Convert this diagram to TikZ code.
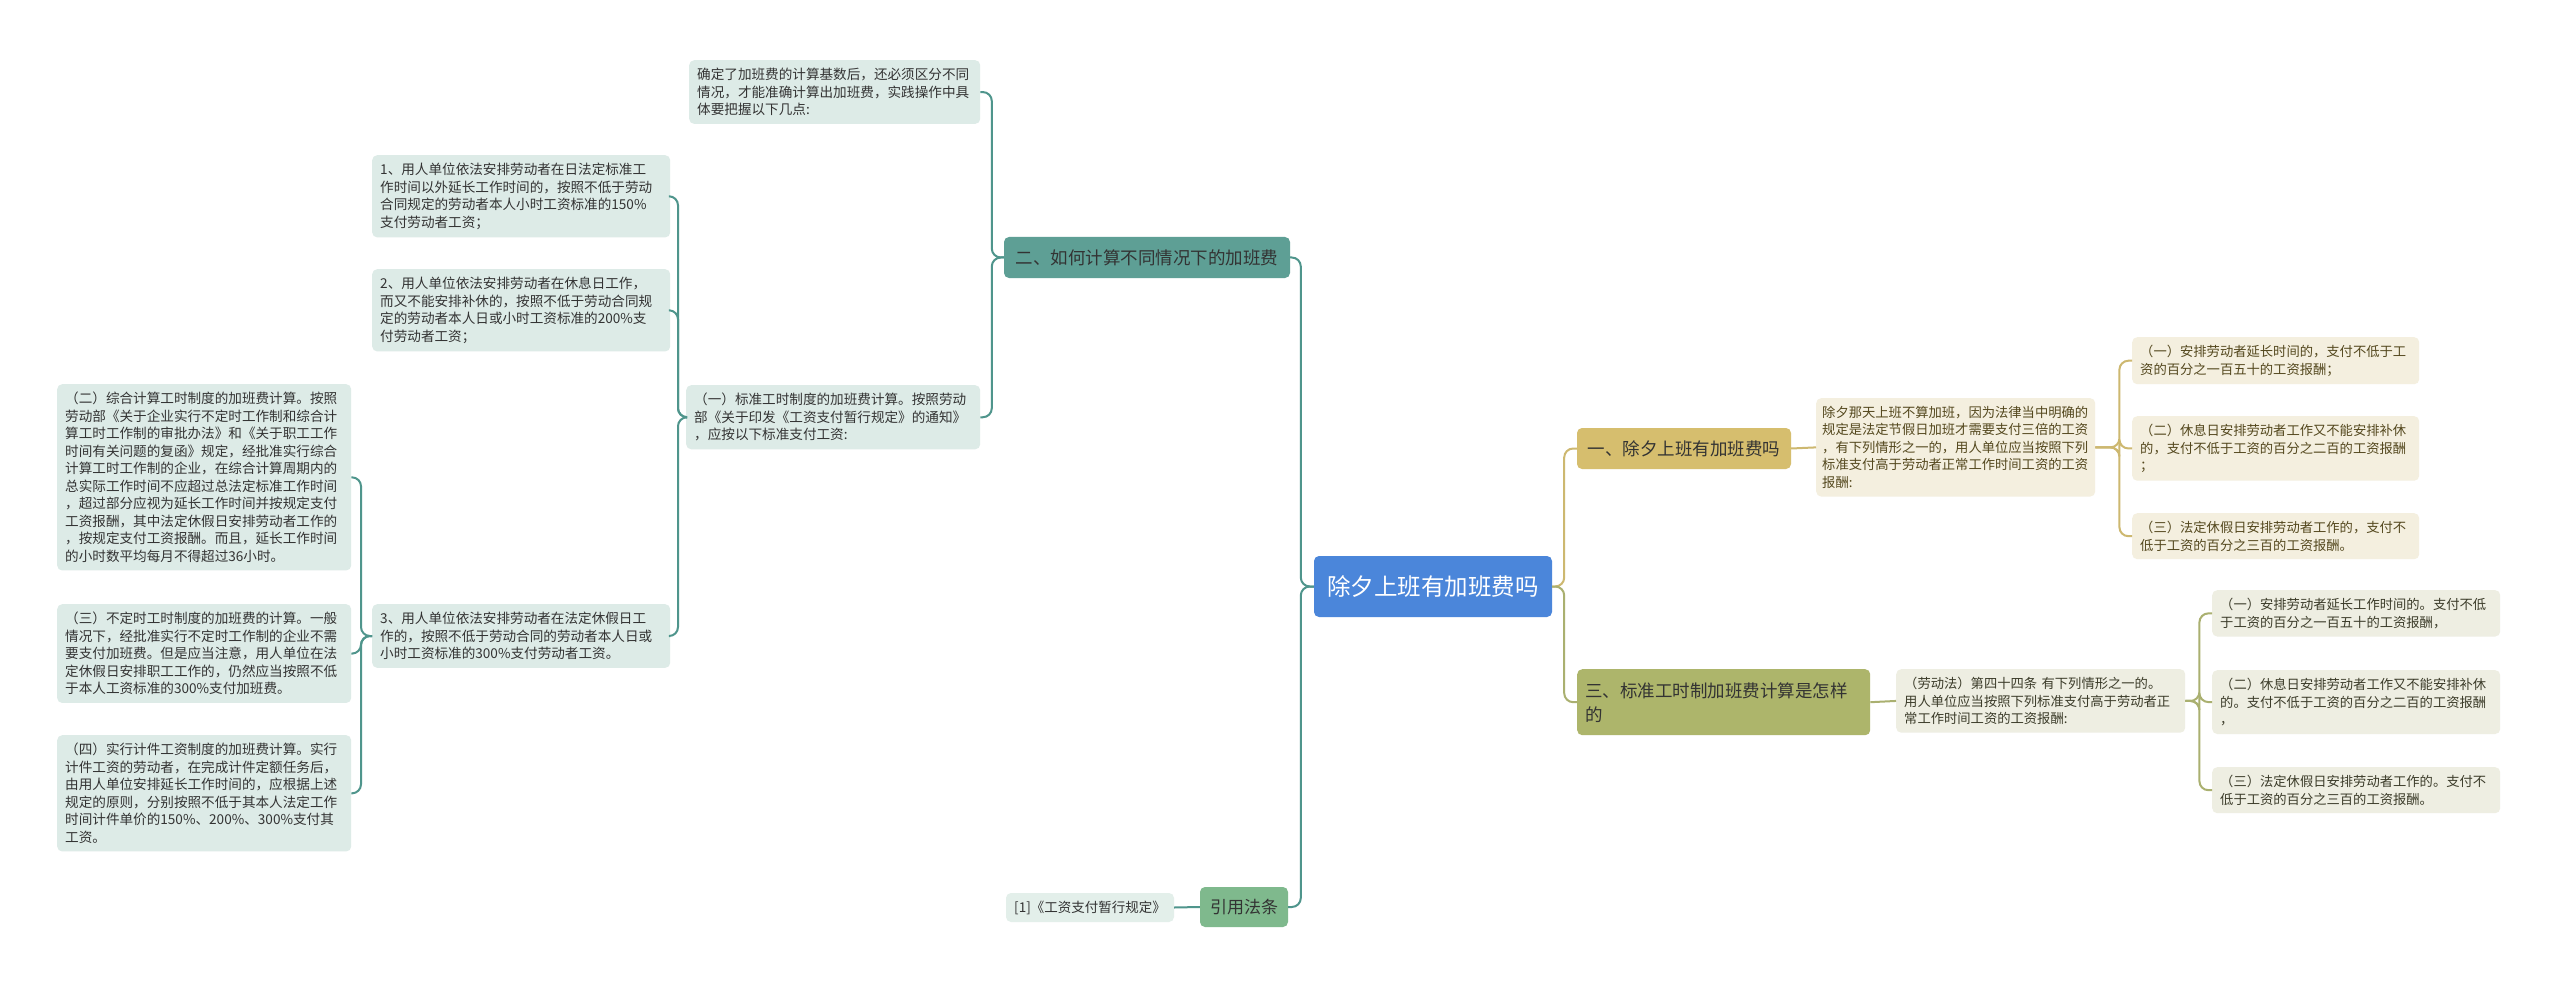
\documentclass[tikz,border=0pt]{standalone}
\usepackage{fontspec}
\setmainfont{Noto Sans CJK SC}
\definecolor{teal1}{HTML}{4F958C}
\definecolor{tealfill}{HTML}{5E9F95}
\definecolor{leafL}{HTML}{DDEBE7}
\definecolor{citefill}{HTML}{7FB98D}
\definecolor{reffill}{HTML}{E3EFEA}
\definecolor{blue1}{HTML}{4B86DA}
\definecolor{gold1}{HTML}{CDB870}
\definecolor{goldfill}{HTML}{D6BE6E}
\definecolor{leafG}{HTML}{F4EFDF}
\definecolor{goldtext}{HTML}{54481E}
\definecolor{olive1}{HTML}{AAB070}
\definecolor{olivefill}{HTML}{ADB56B}
\definecolor{leafO}{HTML}{EEEEE2}
\definecolor{olivetext}{HTML}{3C3C2A}
\definecolor{txt}{HTML}{333333}
\begin{document}
\begin{tikzpicture}[x=1pt,y=-1pt,
  lleaf/.style={fill=leafL, rounded corners=5pt, inner xsep=8pt, inner ysep=8pt, anchor=north west, align=left, text=txt, font=\fontsize{13.6pt}{17.5pt}\selectfont},
  gleaf/.style={fill=leafG, rounded corners=5pt, inner xsep=8pt, inner ysep=8pt, anchor=north west, align=left, text=goldtext, font=\fontsize{13.3pt}{17.5pt}\selectfont},
  oleaf/.style={fill=leafO, rounded corners=5pt, inner xsep=8pt, inner ysep=8pt, anchor=north west, align=left, text=olivetext, font=\fontsize{13.3pt}{17.5pt}\selectfont},
  branch/.style={rounded corners=5pt, inner sep=0pt, align=center, font=\fontsize{17.5pt}{24pt}\selectfont},
  ledge/.style={draw=teal1, line width=2pt, rounded corners=9pt},
  gedge/.style={draw=gold1, line width=2pt, rounded corners=9pt},
  oedge/.style={draw=olive1, line width=2pt, rounded corners=9pt}]
\fill[white] (0,0) rectangle (2560,987);
\useasboundingbox (0,0) rectangle (2560,987);

% center
\node[branch, fill=blue1, text=white, minimum width=238pt, minimum height=61pt, font=\fontsize{23.5pt}{28pt}\selectfont] (c) at (1433,586.5) {除夕上班有加班费吗};

% left side
\node[branch, fill=tealfill, text=txt, minimum width=286pt, minimum height=41pt] (two) at (1147,257.5) {二、如何计算不同情况下的加班费};
\node[branch, fill=citefill, text=txt, minimum width=88pt, minimum height=40pt, font=\fontsize{17pt}{22pt}\selectfont] (cite) at (1244,907) {引用法条};
\node[branch, fill=reffill, text=txt, minimum width=168pt, minimum height=29pt, font=\fontsize{13.5pt}{17pt}\selectfont] (ref) at (1090,907.5) {[1]《工资支付暂行规定》};

\node[lleaf, text width=275pt] (t0) at (689,60) {确定了加班费的计算基数后，还必须区分不同\\情况，才能准确计算出加班费，实践操作中具\\体要把握以下几点:};
\node[lleaf, text width=278pt] (std) at (686,385) {（一）标准工时制度的加班费计算。按照劳动\\部《关于印发《工资支付暂行规定》的通知》\\，应按以下标准支付工资:};

\node[lleaf, text width=282pt] (b1) at (372,155) {1、用人单位依法安排劳动者在日法定标准工\\作时间以外延长工作时间的，按照不低于劳动\\合同规定的劳动者本人小时工资标准的150\%\\支付劳动者工资；};
\node[lleaf, text width=282pt] (b2) at (372,269) {2、用人单位依法安排劳动者在休息日工作，\\而又不能安排补休的，按照不低于劳动合同规\\定的劳动者本人日或小时工资标准的200\%支\\付劳动者工资；};
\node[lleaf, text width=282pt] (b3) at (372,604) {3、用人单位依法安排劳动者在法定休假日工\\作的，按照不低于劳动合同的劳动者本人日或\\小时工资标准的300\%支付劳动者工资。};

\node[lleaf, text width=278pt] (f2) at (57,384) {（二）综合计算工时制度的加班费计算。按照\\劳动部《关于企业实行不定时工作制和综合计\\算工时工作制的审批办法》和《关于职工工作\\时间有关问题的复函》规定，经批准实行综合\\计算工时工作制的企业，在综合计算周期内的\\总实际工作时间不应超过总法定标准工作时间\\，超过部分应视为延长工作时间并按规定支付\\工资报酬，其中法定休假日安排劳动者工作的\\，按规定支付工资报酬。而且，延长工作时间\\的小时数平均每月不得超过36小时。};
\node[lleaf, text width=278pt] (f3) at (57,604) {（三）不定时工时制度的加班费的计算。一般\\情况下，经批准实行不定时工作制的企业不需\\要支付加班费。但是应当注意，用人单位在法\\定休假日安排职工工作的，仍然应当按照不低\\于本人工资标准的300\%支付加班费。};
\node[lleaf, text width=278pt] (f4) at (57,735) {（四）实行计件工资制度的加班费计算。实行\\计件工资的劳动者，在完成计件定额任务后，\\由用人单位安排延长工作时间的，应根据上述\\规定的原则，分别按照不低于其本人法定工作\\时间计件单价的150\%、200\%、300\%支付其\\工资。};

% right side
\node[branch, fill=goldfill, text=txt, minimum width=214pt, minimum height=41pt] (one) at (1684,448.5) {一、除夕上班有加班费吗};
\node[gleaf, inner xsep=6pt, text width=267pt] (A) at (1816,398) {除夕那天上班不算加班，因为法律当中明确的\\规定是法定节假日加班才需要支付三倍的工资\\，有下列情形之一的，用人单位应当按照下列\\标准支付高于劳动者正常工作时间工资的工资\\报酬:};
\node[gleaf, text width=271pt] (L1) at (2132,337) {（一）安排劳动者延长时间的，支付不低于工\\资的百分之一百五十的工资报酬；};
\node[gleaf, text width=271pt] (L2) at (2132,416) {（二）休息日安排劳动者工作又不能安排补休\\的，支付不低于工资的百分之二百的工资报酬\\；};
\node[gleaf, text width=271pt] (L3) at (2132,513) {（三）法定休假日安排劳动者工作的，支付不\\低于工资的百分之三百的工资报酬。};

\node[branch, fill=olivefill, text=txt, anchor=north west, align=left, text width=277pt, inner xsep=8pt, minimum height=66pt] (three) at (1577,669) {三、标准工时制加班费计算是怎样\\的};
\node[oleaf, text width=273pt] (B) at (1896,669) {（劳动法）第四十四条~有下列情形之一的。\\用人单位应当按照下列标准支付高于劳动者正\\常工作时间工资的工资报酬:};
\node[oleaf, text width=272pt] (M1) at (2212,590) {（一）安排劳动者延长工作时间的。支付不低\\于工资的百分之一百五十的工资报酬，};
\node[oleaf, text width=272pt] (M2) at (2212,670) {（二）休息日安排劳动者工作又不能安排补休\\的。支付不低于工资的百分之二百的工资报酬\\，};
\node[oleaf, text width=272pt] (M3) at (2212,767) {（三）法定休假日安排劳动者工作的。支付不\\低于工资的百分之三百的工资报酬。};

% edges left
\draw[ledge] (c.west) -- ++(-13,0) |- (two.east);
\draw[ledge] (c.west) -- ++(-13,0) |- (cite.east);
\draw[ledge] (cite.west) -- (ref.east);
\draw[ledge] (two.west) -- ++(-12,0) |- (t0.east);
\draw[ledge] (two.west) -- ++(-12,0) |- (std.east);
\draw[ledge] (std.west) -- ++(-8,0) |- (b1.east);
\draw[ledge] (std.west) -- ++(-8,0) |- (b2.east);
\draw[ledge] (std.west) -- ++(-8,0) |- (b3.east);
\draw[ledge] (b3.west) -- ++(-11,0) |- (f2.east);
\draw[ledge] (b3.west) -- ++(-11,0) |- (f3.east);
\draw[ledge] (b3.west) -- ++(-11,0) |- (f4.east);

% edges right
\draw[gedge] (c.east) -- ++(12,0) |- (one.west);
\draw[oedge] (c.east) -- ++(12,0) |- (three.west);
\draw[gedge] (one.east) -- (A.west);
\draw[gedge] (A.east) -- ++(24,0) |- (L1.west);
\draw[gedge] (A.east) -- ++(24,0) |- (L2.west);
\draw[gedge] (A.east) -- ++(24,0) |- (L3.west);
\draw[oedge] (three.east) -- (B.west);
\draw[oedge] (B.east) -- ++(14,0) |- (M1.west);
\draw[oedge] (B.east) -- ++(14,0) |- (M2.west);
\draw[oedge] (B.east) -- ++(14,0) |- (M3.west);
\end{tikzpicture}
\end{document}
